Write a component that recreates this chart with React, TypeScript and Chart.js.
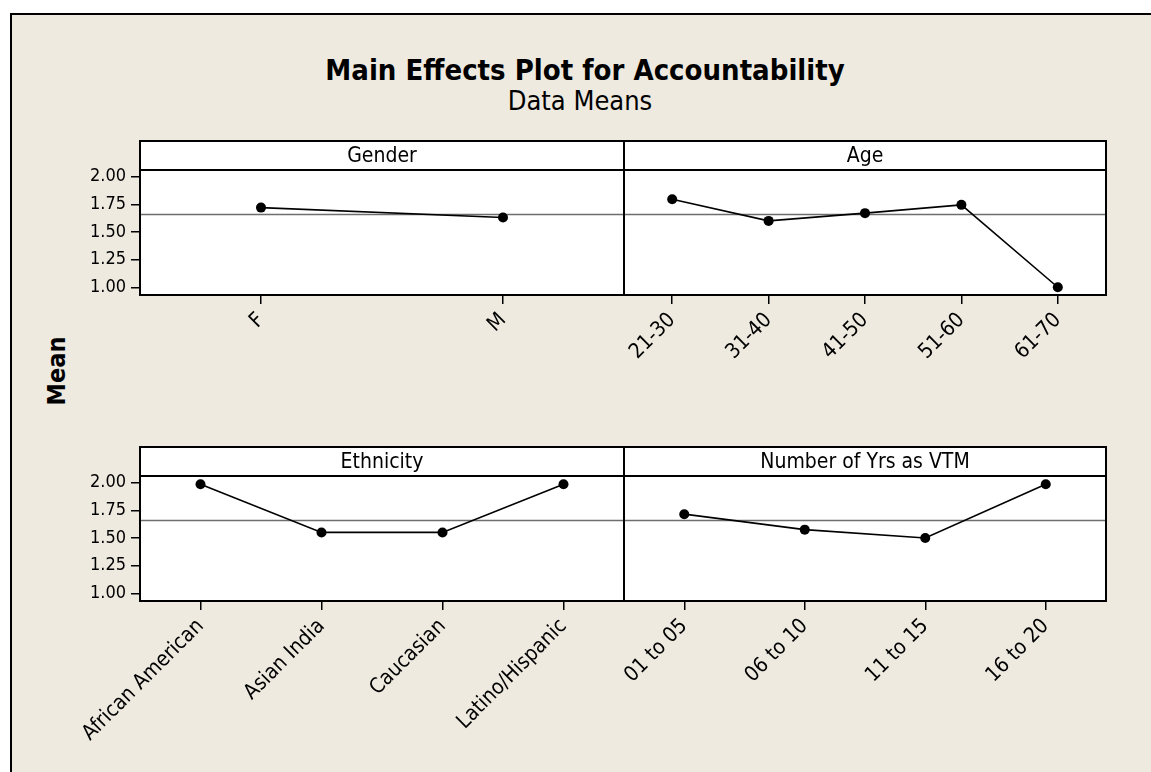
import { useEffect, useRef } from "react";
import { Chart, registerables } from "chart.js";

Chart.register(...registerables);

// ---- data: factor levels and their mean response ----
const genderLevels = ["F", "M"];
const genderMeans = [1.72, 1.63];

const ageLevels = ["21-30", "31-40", "41-50", "51-60", "61-70"];
const ageMeans = [1.795, 1.6, 1.67, 1.745, 1.0];

const ethnicityLevels = ["African American", "Asian India", "Caucasian", "Latino/Hispanic"];
const ethnicityMeans = [1.985, 1.55, 1.55, 1.985];

const yearsLevels = ["01 to 05", "06 to 10", "11 to 15", "16 to 20"];
const yearsMeans = [1.715, 1.575, 1.5, 1.985];

const yTickValues = [1.0, 1.25, 1.5, 1.75, 2.0];
const grandMean = 1.657;

// ---- layout ----
const PAGE_W = 1151;
const PAGE_H = 772;
const Y_MIN = 0.93;
const Y_MAX = 2.06;
const BG = "rgb(238,234,224)";
const FONT = '"DejaVu Sans Condensed", "DejaVu Sans", sans-serif';
const Y_AXIS_W = 100;
const X_AXIS_H = 160;
const HEADER_H = 29;

type PanelSpec = {
  title: string;
  levels: string[];
  means: number[];
  left: number;
  right: number;
  top: number;
  bottom: number;
  showY: boolean;
};

const panels: PanelSpec[] = [
  { title: "Gender", levels: genderLevels, means: genderMeans, left: 140, right: 624, top: 170, bottom: 295, showY: true },
  { title: "Age", levels: ageLevels, means: ageMeans, left: 624, right: 1106, top: 170, bottom: 295, showY: false },
  { title: "Ethnicity", levels: ethnicityLevels, means: ethnicityMeans, left: 140, right: 624, top: 476, bottom: 601, showY: true },
  { title: "Number of Yrs as VTM", levels: yearsLevels, means: yearsMeans, left: 624, right: 1106, top: 476, bottom: 601, showY: false },
];

// Draws the white plot box, the strip header with the factor name,
// the grand-mean reference line and the black frame.
const panelFrame = {
  id: "panelFrame",
  beforeDraw(chart: any, _args: any, o: any) {
    const { ctx, chartArea: a } = chart;
    ctx.save();
    ctx.fillStyle = "#fff";
    ctx.fillRect(a.left, a.top - o.headerHeight, a.right - a.left, a.bottom - a.top + o.headerHeight);
    ctx.restore();
  },
  beforeDatasetsDraw(chart: any, _args: any, o: any) {
    const { ctx, chartArea: a } = chart;
    const y = chart.scales.y.getPixelForValue(o.mean);
    ctx.save();
    ctx.strokeStyle = "#6e6e6e";
    ctx.lineWidth = 1.5;
    ctx.beginPath();
    ctx.moveTo(a.left, y);
    ctx.lineTo(a.right, y);
    ctx.stroke();
    ctx.restore();
  },
  afterDatasetsDraw(chart: any, _args: any, o: any) {
    const { ctx, chartArea: a } = chart;
    const hh = o.headerHeight;
    ctx.save();
    ctx.strokeStyle = "#000";
    ctx.lineWidth = 2;
    ctx.strokeRect(a.left, a.top - hh, a.right - a.left, a.bottom - a.top + hh);
    ctx.beginPath();
    ctx.moveTo(a.left, a.top);
    ctx.lineTo(a.right, a.top);
    ctx.stroke();
    ctx.fillStyle = "#000";
    ctx.font = `21px ${FONT}`;
    ctx.textAlign = "center";
    ctx.textBaseline = "middle";
    ctx.fillText(o.title, (a.left + a.right) / 2, a.top - hh / 2 + 1);
    ctx.restore();
  },
};

function Panel({ spec }: { spec: PanelSpec }) {
  const ref = useRef<HTMLCanvasElement>(null);

  useEffect(() => {
    const chart = new Chart(ref.current as HTMLCanvasElement, {
      type: "line",
      data: {
        labels: spec.levels,
        datasets: [
          {
            data: spec.means,
            borderColor: "#000",
            borderWidth: 1.6,
            pointRadius: 5,
            pointHoverRadius: 5,
            pointBackgroundColor: "#000",
            pointBorderColor: "#000",
            pointBorderWidth: 0,
            tension: 0,
            fill: false,
          },
        ],
      },
      options: {
        responsive: false,
        animation: false,
        devicePixelRatio: 1,
        events: [],
        layout: {
          padding: {
            left: spec.showY ? spec.left - Y_AXIS_W : spec.left,
            right: PAGE_W - spec.right,
            top: spec.top,
            bottom: PAGE_H - spec.bottom - X_AXIS_H,
          },
        },
        plugins: {
          legend: { display: false },
          tooltip: { enabled: false },
          panelFrame: { title: spec.title, mean: grandMean, headerHeight: HEADER_H },
        } as any,
        scales: {
          x: {
            type: "category",
            offset: true,
            grid: {
              offset: false,
              drawOnChartArea: false,
              drawTicks: true,
              tickLength: 9,
              color: "#000",
              lineWidth: 1.5,
            },
            border: { display: false },
            ticks: {
              autoSkip: false,
              maxRotation: 45,
              minRotation: 45,
              padding: 4,
              color: "#000",
              font: { family: FONT, size: 21 },
            },
            afterFit(s: any) {
              s.height = X_AXIS_H;
              s.paddingLeft = 0;
              s.paddingRight = 0;
            },
          },
          y: {
            display: spec.showY,
            min: Y_MIN,
            max: Y_MAX,
            afterBuildTicks(s: any) {
              s.ticks = yTickValues.map((v) => ({ value: v }));
            },
            grid: {
              drawOnChartArea: false,
              drawTicks: true,
              tickLength: 9,
              color: "#000",
              lineWidth: 1.5,
            },
            border: { display: false },
            ticks: {
              padding: 5,
              color: "#000",
              font: { family: FONT, size: 18 },
              callback: (v: any) => Number(v).toFixed(2),
            },
            afterFit(s: any) {
              if (s.options.display) s.width = Y_AXIS_W;
            },
          },
        },
      } as any,
      plugins: [panelFrame],
    });
    return () => chart.destroy();
  }, [spec]);

  return (
    <canvas
      ref={ref}
      width={PAGE_W}
      height={PAGE_H}
      style={{ position: "absolute", left: 0, top: 0 }}
    />
  );
}

export default function App() {
  return (
    <div
      style={{
        position: "absolute",
        left: 0,
        top: 0,
        width: PAGE_W,
        height: PAGE_H,
        overflow: "hidden",
        background: "#fff",
        fontFamily: FONT,
        color: "#000",
      }}
    >
      <div
        style={{
          position: "absolute",
          left: 10,
          top: 13,
          width: PAGE_W + 50,
          height: PAGE_H + 50,
          borderTop: "2px solid #000",
          borderLeft: "2px solid #000",
          background: BG,
        }}
      />
      <div
        style={{
          position: "absolute",
          left: 185,
          top: 56,
          width: 800,
          textAlign: "center",
          fontWeight: "bold",
          fontSize: 29,
          lineHeight: "29px",
          whiteSpace: "nowrap",
        }}
      >
        Main Effects Plot for Accountability
      </div>
      <div
        style={{
          position: "absolute",
          left: 180,
          top: 87,
          width: 800,
          textAlign: "center",
          fontSize: 27,
          lineHeight: "27px",
          whiteSpace: "nowrap",
        }}
      >
        Data Means
      </div>
      <div
        style={{
          position: "absolute",
          left: 7,
          top: 356,
          width: 100,
          height: 30,
          lineHeight: "30px",
          textAlign: "center",
          fontWeight: "bold",
          fontSize: 25,
          transform: "rotate(-90deg)",
          whiteSpace: "nowrap",
        }}
      >
        Mean
      </div>
      {panels.map((p) => (
        <Panel key={p.title} spec={p} />
      ))}
    </div>
  );
}
